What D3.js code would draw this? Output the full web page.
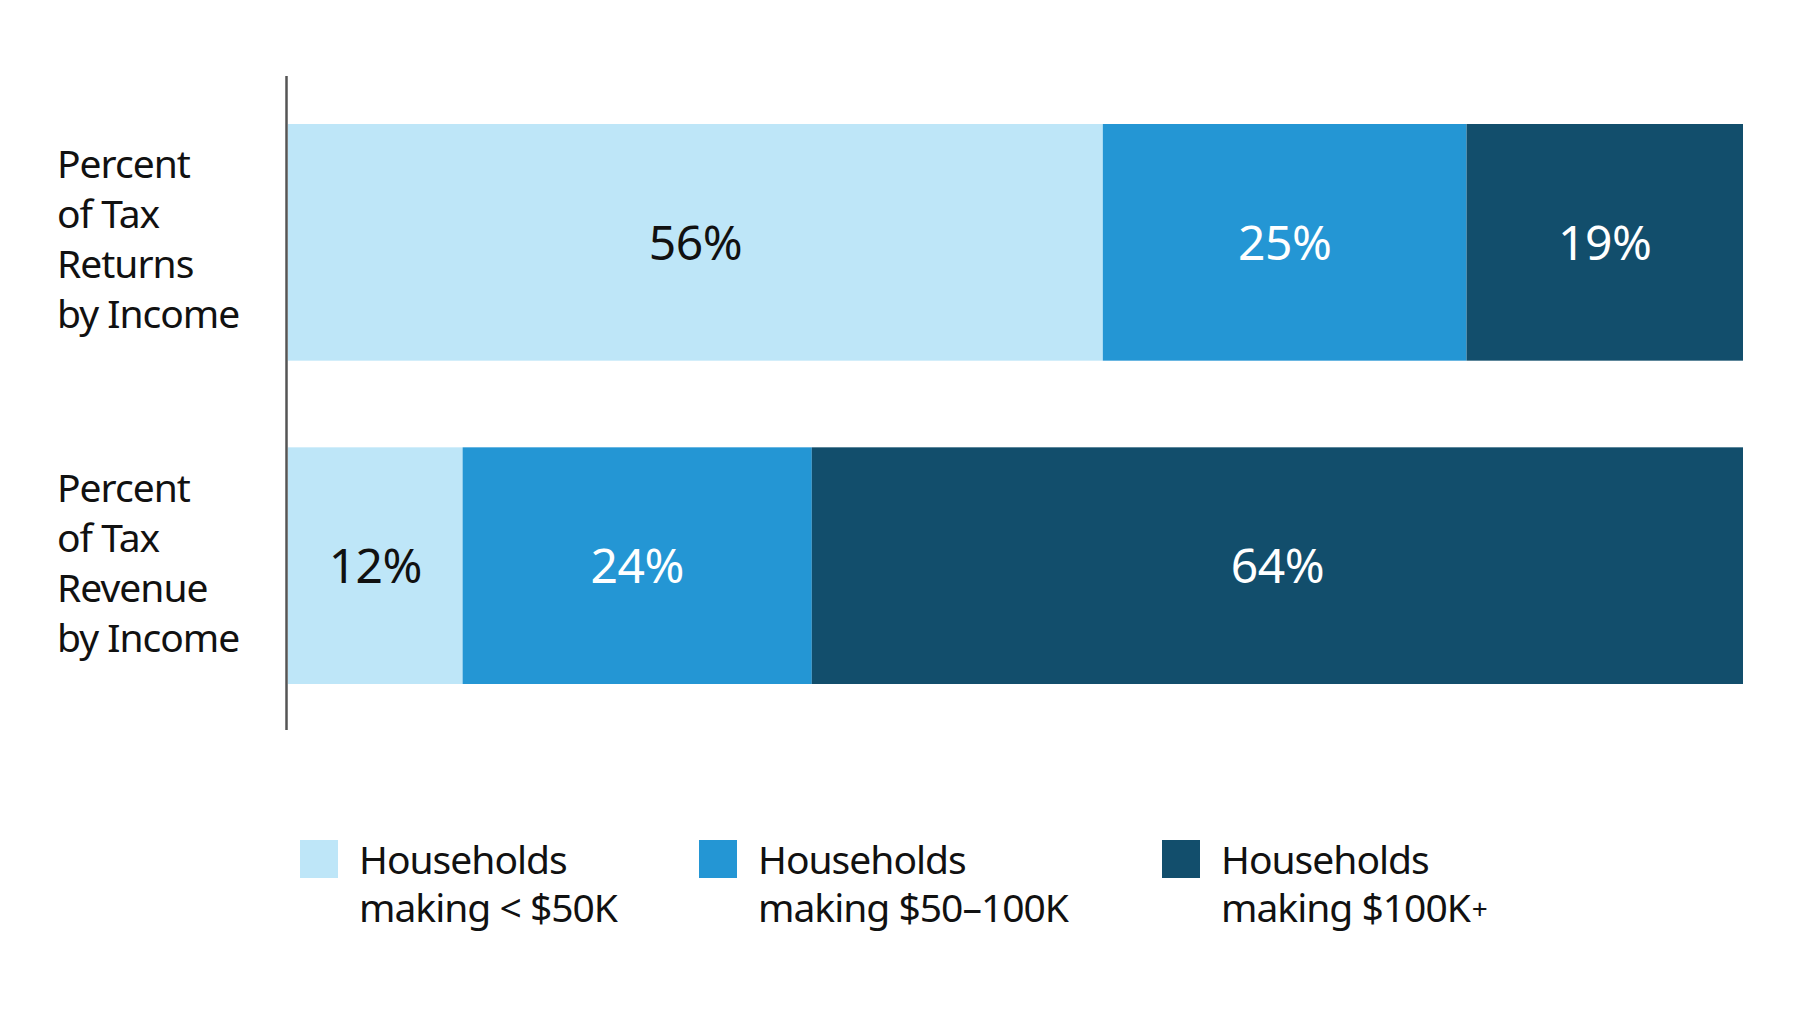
<!DOCTYPE html>
<html>
<head>
<meta charset="utf-8">
<script src="https://cdn.jsdelivr.net/npm/d3@7"></script>
<style>
  html, body { margin: 0; padding: 0; background: #fff; }
  svg { display: block; font-family: "Noto Sans", "Open Sans", sans-serif; }
</style>
</head>
<body>
<svg width="1800" height="1018"></svg>
<script>
const svg = d3.select("svg");

// DATA
const categories = ["returns", "revenue"];
const categoryLines = [
  ["Percent", "of Tax", "Returns", "by Income"],
  ["Percent", "of Tax", "Revenue", "by Income"]
];
const groups = ["low", "mid", "high"];
const lowValues = [56, 12];
const midValues = [25, 24];
const highValues = [19, 64];
const legendLines = [
  ["Households", "making < $50K"],
  ["Households", "making $50\u2013100K"],
  ["Households", "making $100K"]
];
const legendSuffix = ["", "", "+"];

// CONSTANTS
const colors = ["#bee6f8", "#2496d4", "#124e6c"];
const textColors = ["#111", "#fff", "#fff"];
const margin = { top: 124, left: 288, right: 57, bottom: 334 };
const width = +svg.attr("width");
const height = +svg.attr("height");

// stack rows
const rows = categories.map((c, i) => ({
  key: c,
  low: lowValues[i],
  mid: midValues[i],
  high: highValues[i]
}));
const stacked = d3.stack().keys(groups)(rows);

// SCALES
const xScale = d3.scaleLinear()
  .domain([0, 100])
  .range([margin.left, width - margin.right]);
const yScale = d3.scaleBand()
  .domain(categories)
  .range([margin.top, height - margin.bottom])
  .paddingInner(0.268)
  .paddingOuter(0);

// bars
const layers = svg.append("g")
  .selectAll("g")
  .data(stacked)
  .join("g")
  .attr("fill", (d, i) => colors[i]);

layers.selectAll("rect")
  .data(d => d.map(s => ({ s, key: d.key, cat: s.data.key })))
  .join("rect")
  .attr("x", d => xScale(d.s[0]))
  .attr("y", d => yScale(d.cat))
  .attr("width", d => xScale(d.s[1]) - xScale(d.s[0]))
  .attr("height", yScale.bandwidth());

// value labels
layers.each(function (layer, li) {
  d3.select(this).selectAll("text")
    .data(layer)
    .join("text")
    .attr("x", d => xScale((d[0] + d[1]) / 2))
    .attr("y", d => yScale(d.data.key) + yScale.bandwidth() / 2)
    .attr("dy", "0.36em")
    .attr("text-anchor", "middle")
    .attr("font-size", 48)
    .attr("letter-spacing", -0.5)
    .attr("fill", textColors[li])
    .text(d => `${d[1] - d[0]}%`);
});

// vertical axis line
svg.append("line")
  .attr("x1", xScale(0) - 1.5)
  .attr("x2", xScale(0) - 1.5)
  .attr("y1", yScale.range()[0] - 48)
  .attr("y2", yScale.range()[1] + 46)
  .attr("stroke", "#555")
  .attr("stroke-width", 2.5);

// category labels
const lineH = 50;
svg.append("g")
  .selectAll("text")
  .data(categories)
  .join("text")
  .attr("font-size", 39)
  .attr("letter-spacing", -1)
  .attr("fill", "#111")
  .each(function (d, i) {
    const lines = categoryLines[i];
    const cy = yScale(d) + yScale.bandwidth() / 2 + 11;
    const first = cy - (lines.length - 1) / 2 * lineH;
    d3.select(this).selectAll("tspan")
      .data(lines)
      .join("tspan")
      .attr("x", 57)
      .attr("y", (l, j) => first + j * lineH)
      .text(l => l);
  });

// legend
const legendX = [300, 699, 1162];
const legendTop = 840;
const legend = svg.append("g")
  .selectAll("g")
  .data(groups)
  .join("g")
  .attr("transform", (d, i) => `translate(${legendX[i]}, ${legendTop})`);

legend.append("rect")
  .attr("width", 38)
  .attr("height", 38)
  .attr("fill", (d, i) => colors[i]);

legend.append("text")
  .attr("font-size", 39)
  .attr("letter-spacing", -1)
  .attr("fill", "#111")
  .each(function (d, i) {
    const t = d3.select(this);
    legendLines[i].forEach((l, j) => {
      t.append("tspan")
        .attr("x", 59)
        .attr("y", 34 + j * 48)
        .text(l);
    });
    if (legendSuffix[i]) {
      t.append("tspan")
        .attr("font-size", 28)
        .attr("dx", 2)
        .attr("dy", -3)
        .text(legendSuffix[i]);
    }
  });
</script>
</body>
</html>
